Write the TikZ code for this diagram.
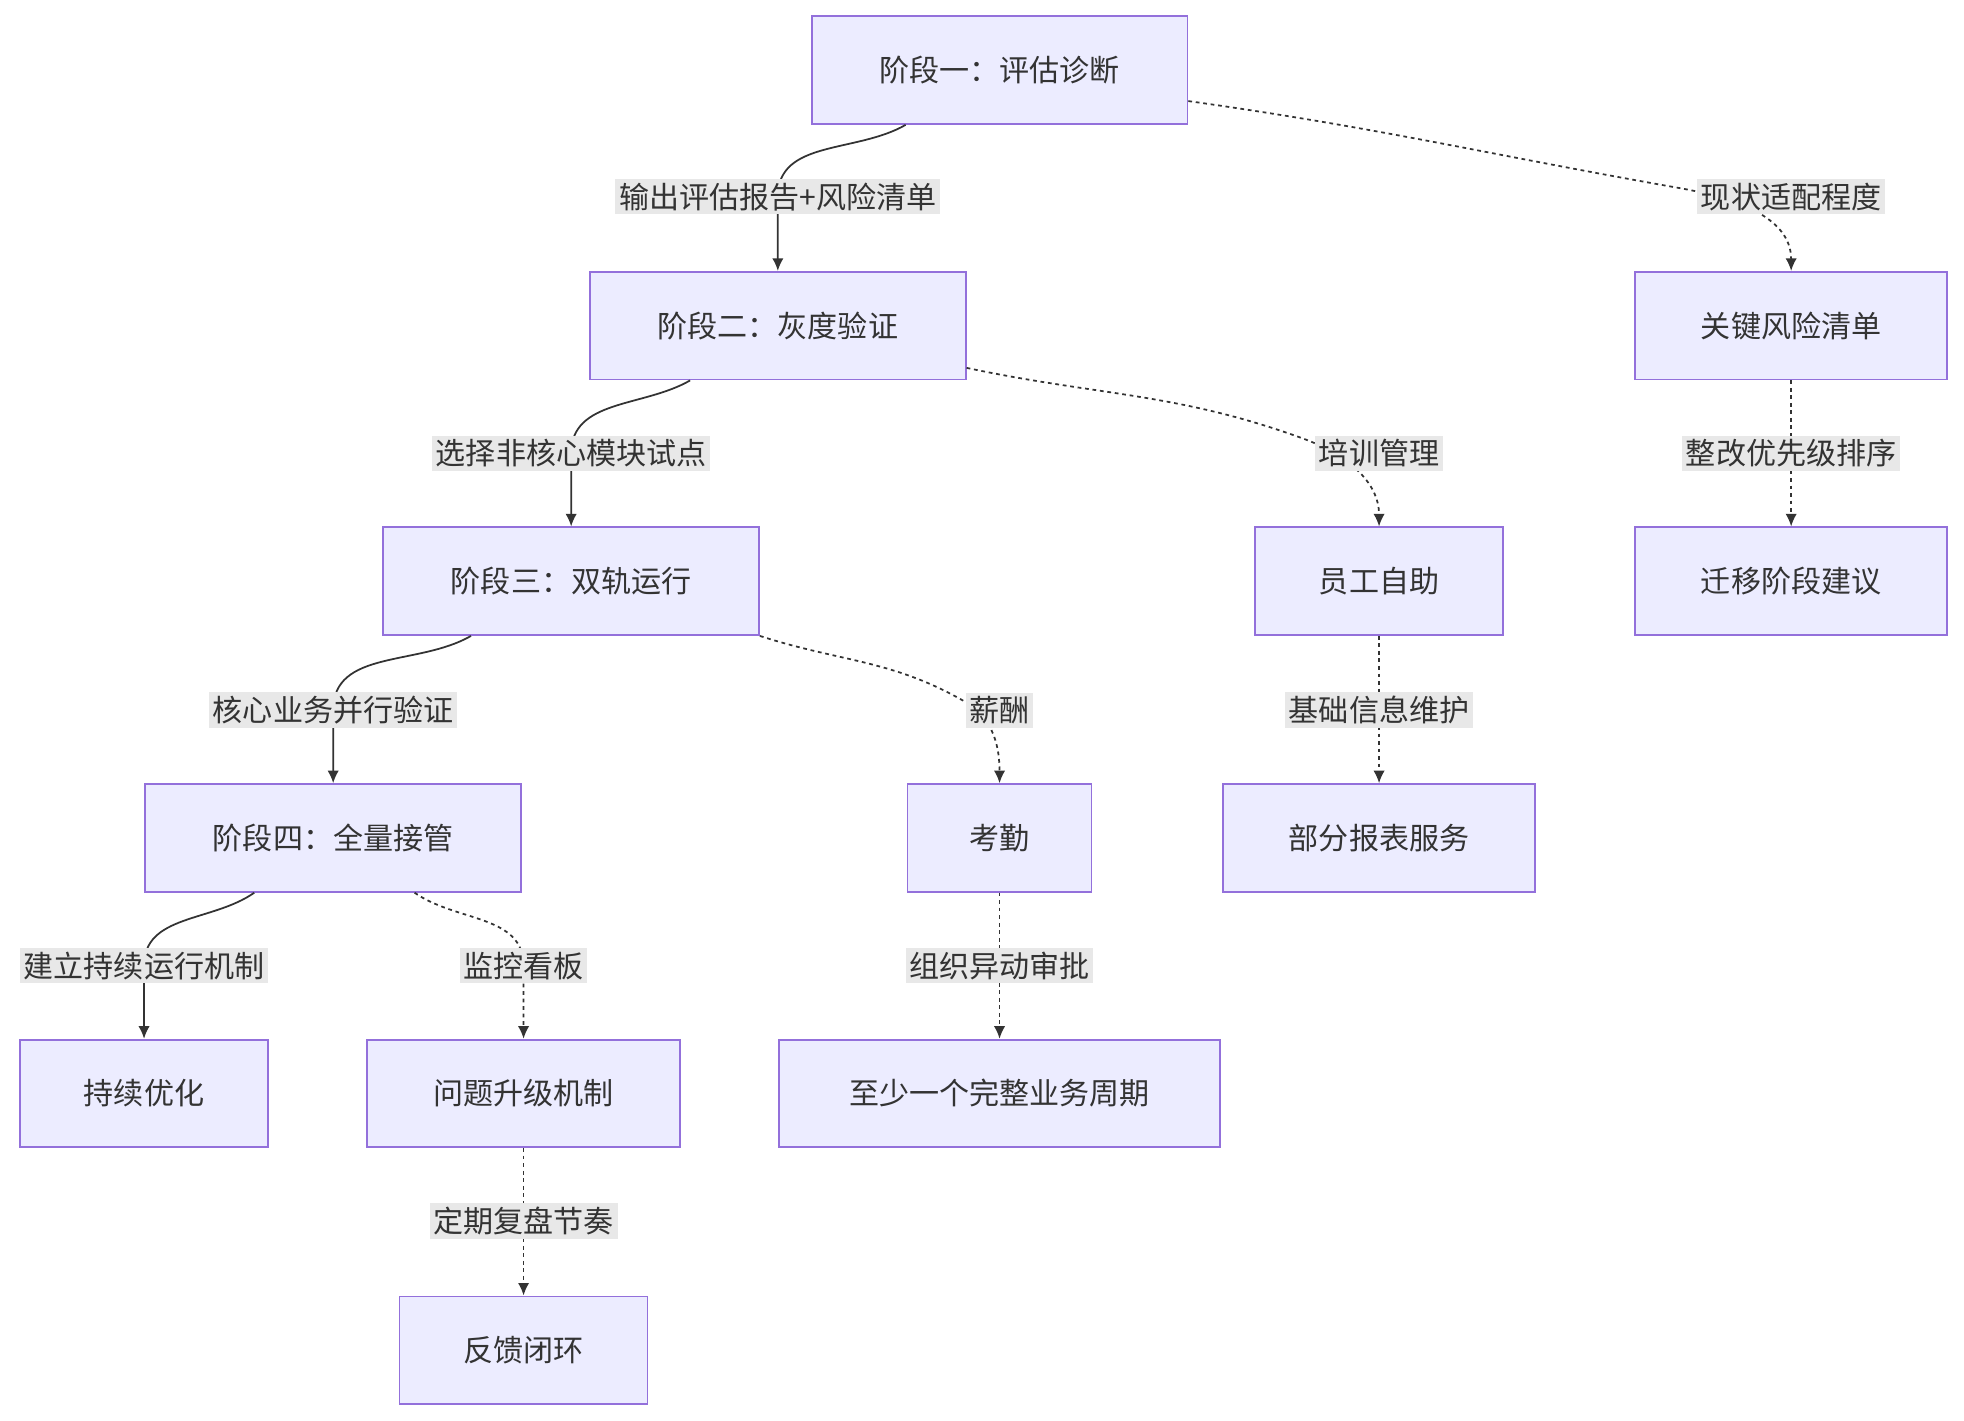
\documentclass[tikz,border=0pt]{standalone}
\usepackage{fontspec}
\setmainfont{Noto Sans CJK SC}
\usetikzlibrary{arrows.meta}
\definecolor{nfill}{HTML}{ECECFF}
\definecolor{nstroke}{HTML}{9370DB}
\definecolor{lbg}{HTML}{E8E8E8}
\definecolor{txt}{HTML}{333333}
\begin{document}
\begin{tikzpicture}[x=0.5pt,y=0.5pt,
  box/.style={draw=nstroke,fill=nfill,line width=0.7pt,minimum height=43pt,inner sep=0pt,font=\fontsize{12pt}{14pt}\selectfont,text=txt},
  lbl/.style={fill=lbg,inner sep=1.5pt,font=\fontsize{12pt}{14pt}\selectfont,text=txt},
  e/.style={draw=txt,line width=0.7pt,-{Latex[length=5pt,width=4.5pt]}},
  d/.style={e,dash pattern=on 1.5pt off 1.5pt}]
\useasboundingbox (0,0) rectangle (1568,-1134);
\node[box,minimum width=150pt] (A) at (798,-56) {阶段一：评估诊断};
\node[box,minimum width=150pt] (B) at (621,-260) {阶段二：灰度验证};
\node[box,minimum width=150pt] (C) at (456,-464) {阶段三：双轨运行};
\node[box,minimum width=150pt] (D) at (266,-669) {阶段四：全量接管};
\node[box,minimum width=99pt] (E) at (115,-873) {持续优化};
\node[box,minimum width=125pt] (F) at (418,-873) {问题升级机制};
\node[box,minimum width=99pt] (G) at (418,-1078) {反馈闭环};
\node[box,minimum width=73.5pt] (H) at (798,-669) {考勤};
\node[box,minimum width=176pt] (I) at (798,-873) {至少一个完整业务周期};
\node[box,minimum width=99pt] (J) at (1101,-464) {员工自助};
\node[box,minimum width=124.5pt] (K) at (1101,-669) {部分报表服务};
\node[box,minimum width=124.5pt] (L) at (1430,-260) {关键风险清单};
\node[box,minimum width=124.5pt] (M) at (1430,-464) {迁移阶段建议};

\coordinate (lab) at (621,-157);
\coordinate (lal) at (1430,-157);
\coordinate (lbc) at (456,-362);
\coordinate (lbj) at (1101,-362);
\coordinate (lcd) at (266,-567);
\coordinate (lch) at (798,-567);
\coordinate (lde) at (115,-771);
\coordinate (ldf) at (418,-771);

\draw[e] ([xshift=-37.5pt]A.south) to[out=-150,in=90] (lab) -- (B.north);
\draw[d] ([yshift=9.5pt]A.south east) to[out=-8,in=170] (1340,-150) to[out=-10,in=90] (L.north);
\draw[e] ([xshift=-35pt]B.south) to[out=-150,in=90] (lbc) -- (C.north);
\draw[d] ([yshift=5pt]B.south east) to[out=-12,in=160] (1040,-350) to[out=-20,in=90] (J.north);
\draw[e] ([xshift=-40pt]C.south) to[out=-150,in=90] (lcd) -- (D.north);
\draw[d] (C.south east) to[out=-18,in=150] (770,-560) to[out=-30,in=90] (H.north);
\draw[e] ([xshift=-31.5pt]D.south) to[out=-145,in=90] (lde) -- (E.north);
\draw[d] ([xshift=32.5pt]D.south) to[out=-35,in=90] (ldf) -- (F.north);
\draw[d] (H) -- (I);
\draw[d] (J) -- (K);
\draw[d] (L) -- (M);
\draw[d] (F) -- (G);

\node[lbl] (Lab) at (lab) {输出评估报告+风险清单};
\node[lbl] (Lal) at (lal) {现状适配程度};
\node[lbl] (Lbc) at (lbc) {选择非核心模块试点};
\node[lbl] (Lbj) at (lbj) {培训管理};
\node[lbl] (Lcd) at (lcd) {核心业务并行验证};
\node[lbl] (Lch) at (lch) {薪酬};
\node[lbl] (Lde) at (lde) {建立持续运行机制};
\node[lbl] (Ldf) at (ldf) {监控看板};
\node[lbl] (Lhi) at (798,-771) {组织异动审批};
\node[lbl] (Ljk) at (1101,-567) {基础信息维护};
\node[lbl] (Llm) at (1430,-362) {整改优先级排序};
\node[lbl] (Lfg) at (418,-975) {定期复盘节奏};
\end{tikzpicture}
\end{document}
